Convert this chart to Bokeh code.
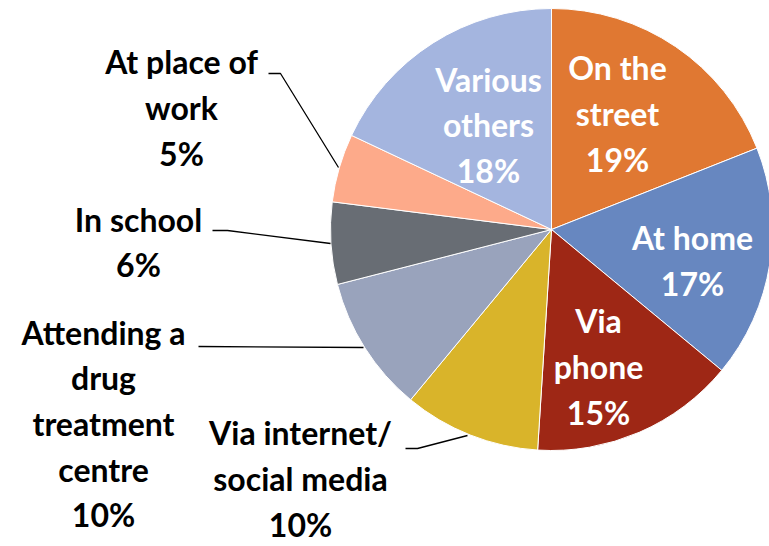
import math
from bokeh.plotting import figure
from bokeh.models import Range1d
from bokeh.core.properties import value
from bokeh.embed import file_html
from bokeh.resources import INLINE

# ---- data ----
categories = ["On the street", "At home", "Via phone", "Via internet/\nsocial media",
              "Attending a\ndrug\ntreatment\ncentre", "In school", "At place of\nwork",
              "Various\nothers"]
shares = [19, 17, 15, 10, 10, 6, 5, 18]
colors = ["#E07832", "#6787C0", "#9E2715", "#D9B42A", "#99A3BC", "#686D74", "#FDAA8A", "#A4B5DF"]

# label layout (pixel coords in the 769x546 page)
label_text = ["On the\nstreet", "At home", "Via\nphone", "Via internet/\nsocial media",
              "Attending a\ndrug\ntreatment\ncentre", "In school", "At place of\nwork",
              "Various\nothers"]
label_xy = [(617, 113), (692, 260), (598, 366), (300, 478),
            (103, 423), (138, 241.5), (181, 107), (488, 124.5)]
label_color = ["white", "white", "white", "black", "black", "black", "black", "white"]
leaders = [None, None, None,
           [(405, 448), (417, 448), (467, 435)],
           [(198, 346), (363, 347)],
           [(212, 230), (227, 230), (330, 243)],
           [(268, 73), (280, 73), (338, 167)],
           None]

W, H = 769, 546
CX, CY, R = 551, 229, 221


def fy(y):
    return H - y


p = figure(width=W, height=H, output_backend="svg", toolbar_location=None,
           x_range=Range1d(0, W), y_range=Range1d(0, H), min_border=0)
p.axis.visible = False
p.grid.visible = False
p.outline_line_color = None
p.background_fill_color = "white"
p.border_fill_color = "white"

total = float(sum(shares))
cum = 0.0
starts, ends = [], []
for s in shares:
    a0 = math.pi / 2 - cum / total * 2 * math.pi
    cum += s
    a1 = math.pi / 2 - cum / total * 2 * math.pi
    starts.append(a0)
    ends.append(a1)

p.wedge(x=[CX] * len(shares), y=[fy(CY)] * len(shares), radius=R,
        start_angle=starts, end_angle=ends, direction="clock",
        fill_color=colors, line_color="white", line_width=1)

for pts in leaders:
    if pts:
        p.line([q[0] for q in pts], [fy(q[1]) for q in pts], line_color="black", line_width=1.3)

texts = [f"{t}\n{v}%" for t, v in zip(label_text, shares)]
p.text(x=[q[0] for q in label_xy], y=[fy(q[1]) for q in label_xy], text=texts,
       text_color=label_color, text_font=value("Lato"), text_font_style="bold",
       text_font_size="32px", text_align="center", text_baseline="middle",
       text_line_height=1.17)

open("out.html", "w").write(file_html(p, INLINE))
